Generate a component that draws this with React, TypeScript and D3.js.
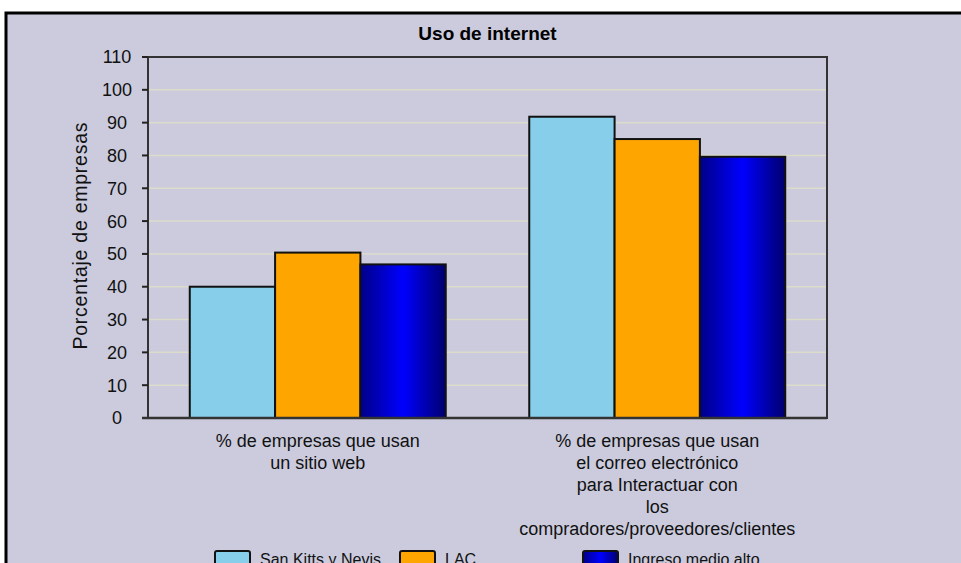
import React, { useEffect, useRef } from 'react';
import * as d3 from 'd3';

// Chart data
const categories = ['web', 'correo'];
const categoryLabels: string[][] = [
  ['% de empresas que usan', 'un sitio web'],
  ['% de empresas que usan', 'el correo electrónico', 'para Interactuar con', 'los', 'compradores/proveedores/clientes'],
];
const seriesNames = ['San Kitts y Nevis', 'LAC', 'Ingreso medio alto'];
const seriesColors = ['#87ceeb', '#ffa500', 'url(#blueGrad)'];
const sknValues = [40, 91.8];
const lacValues = [50.4, 85];
const umiValues = [46.8, 79.6];
const yTicks = [0, 10, 20, 30, 40, 50, 60, 70, 80, 90, 100, 110];

const App: React.FC = () => {
  const ref = useRef<SVGSVGElement>(null);

  useEffect(() => {
    if (!ref.current) return;
    const svg = d3.select(ref.current);
    svg.selectAll('*').remove();

    const width = 961;
    const height = 563;
    const margin = { top: 57, right: 134, bottom: 145, left: 148 };
    const font = '"Liberation Sans", Arial, sans-serif';

    svg.attr('width', width).attr('height', height);

    const defs = svg.append('defs');
    const grad = defs.append('linearGradient')
      .attr('id', 'blueGrad')
      .attr('x1', '0').attr('y1', '0').attr('x2', '1').attr('y2', '0');
    grad.append('stop').attr('offset', '0%').attr('stop-color', '#000088');
    grad.append('stop').attr('offset', '50%').attr('stop-color', '#0000ff');
    grad.append('stop').attr('offset', '100%').attr('stop-color', '#00006e');

    // page + frame
    svg.append('rect').attr('width', width).attr('height', height).attr('fill', '#ffffff');
    svg.append('rect')
      .attr('x', 6).attr('y', 13)
      .attr('width', width + 20).attr('height', height + 20)
      .attr('fill', '#cbcbdd')
      .attr('stroke', '#000')
      .attr('stroke-width', 3);

    const x0 = d3.scaleBand<string>()
      .domain(categories)
      .range([margin.left, width - margin.right])
      .paddingInner(0.246)
      .paddingOuter(0.123);
    const x1 = d3.scaleBand<string>()
      .domain(seriesNames)
      .range([0, x0.bandwidth()]);
    const y = d3.scaleLinear()
      .domain([0, 110])
      .range([height - margin.bottom, margin.top]);

    const plotL = margin.left;
    const plotR = width - margin.right;

    // gridlines
    svg.append('g')
      .selectAll('line')
      .data(yTicks.filter(t => t > 0 && t < 110))
      .join('line')
      .attr('x1', plotL).attr('x2', plotR)
      .attr('y1', d => y(d)).attr('y2', d => y(d))
      .attr('stroke', '#dcdccb')
      .attr('stroke-width', 1.5);

    // plot border
    svg.append('rect')
      .attr('x', plotL).attr('y', y(110))
      .attr('width', plotR - plotL).attr('height', y(0) - y(110))
      .attr('fill', 'none')
      .attr('stroke', '#333')
      .attr('stroke-width', 2);

    // y axis ticks + labels
    const yAxis = svg.append('g');
    yAxis.selectAll('line')
      .data(yTicks)
      .join('line')
      .attr('x1', plotL - 6).attr('x2', plotL)
      .attr('y1', d => y(d)).attr('y2', d => y(d))
      .attr('stroke', '#222')
      .attr('stroke-width', 2);
    yAxis.selectAll('text')
      .data(yTicks)
      .join('text')
      .attr('x', 117)
      .attr('y', d => y(d))
      .attr('dy', '0.36em')
      .attr('text-anchor', 'middle')
      .style('font-family', font)
      .style('font-size', '18px')
      .attr('fill', '#111')
      .text(d => d);

    // axis title
    svg.append('text')
      .attr('transform', `translate(87,${236}) rotate(-90)`)
      .attr('text-anchor', 'middle')
      .attr('textLength', 227)
      .attr('lengthAdjust', 'spacing')
      .style('font-family', font)
      .style('font-size', '19.5px')
      .attr('fill', '#111')
      .text('Porcentaje de empresas');

    // bars
    const seriesValues = [sknValues, lacValues, umiValues];
    categories.forEach((cat, ci) => {
      const g = svg.append('g').attr('transform', `translate(${x0(cat)},0)`);
      g.selectAll('rect')
        .data(seriesNames)
        .join('rect')
        .attr('x', s => x1(s) as number)
        .attr('y', (_, si) => y(seriesValues[si][ci]))
        .attr('width', x1.bandwidth())
        .attr('height', (_, si) => y(0) - y(seriesValues[si][ci]))
        .attr('fill', (_, si) => seriesColors[si])
        .attr('stroke', '#111')
        .attr('stroke-width', 2);
    });

    // bottom axis line
    svg.append('line')
      .attr('x1', plotL - 6).attr('x2', plotR)
      .attr('y1', y(0)).attr('y2', y(0))
      .attr('stroke', '#333')
      .attr('stroke-width', 2.5);

    // category labels
    categories.forEach((cat, ci) => {
      const cx = (x0(cat) as number) + x0.bandwidth() / 2;
      svg.append('g')
        .selectAll('text')
        .data(categoryLabels[ci])
        .join('text')
        .attr('x', cx)
        .attr('y', (_, i) => y(0) + 29 + i * 22)
        .attr('text-anchor', 'middle')
        .style('font-family', font)
        .style('font-size', '18px')
        .attr('fill', '#111')
        .text(d => d);
    });

    // title
    svg.append('text')
      .attr('x', (plotL + plotR) / 2)
      .attr('y', 40)
      .attr('text-anchor', 'middle')
      .style('font-family', font)
      .style('font-size', '19px')
      .style('font-weight', 'bold')
      .attr('fill', '#000')
      .text('Uso de internet');

    // legend
    const legendX = [215, 400, 583];
    const legend = svg.append('g');
    seriesNames.forEach((name, i) => {
      legend.append('rect')
        .attr('x', legendX[i]).attr('y', 551)
        .attr('width', 35).attr('height', 14)
        .attr('rx', 2)
        .attr('fill', seriesColors[i])
        .attr('stroke', '#111')
        .attr('stroke-width', 2);
      legend.append('text')
        .attr('x', legendX[i] + 45)
        .attr('y', 565)
        .style('font-family', font)
        .style('font-size', '16px')
        .attr('fill', '#111')
        .text(name);
    });
  }, []);

  return (
    <div style={{ position: 'absolute', left: 0, top: 0 }}>
      <svg ref={ref}></svg>
    </div>
  );
};

export default App;
